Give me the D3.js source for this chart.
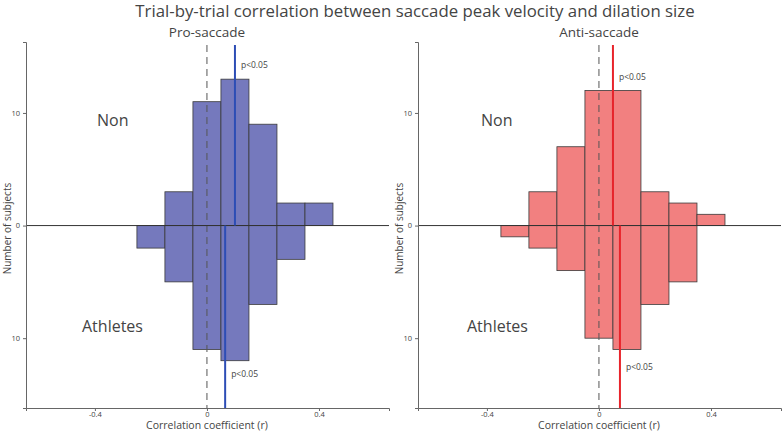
<!DOCTYPE html>
<html>
<head>
<meta charset="utf-8">
<script src="https://cdn.jsdelivr.net/npm/d3@7"></script>
<style>
  body { margin: 0; background: #fff; }
  text { font-family: "Open Sans", "Noto Sans", sans-serif; fill: #444; }
</style>
</head>
<body>
<div id="chart"></div>
<script>
// bin centres (width 0.1) and counts
const proBins = [-0.2, -0.1, 0, 0.1, 0.2, 0.3, 0.4];
const proNon = [0, 3, 11, 13, 9, 2, 2];
const proAth = [2, 5, 11, 12, 7, 3, 0];
const antiBins = [-0.3, -0.2, -0.1, 0, 0.1, 0.2, 0.3, 0.4];
const antiNon = [0, 3, 7, 12, 12, 3, 2, 1];
const antiAth = [1, 2, 4, 10, 11, 7, 5, 0];
// median r per group
const proMedian = { non: 0.1, ath: 0.065 };
const antiMedian = { non: 0.05, ath: 0.075 };
const xTicks = [-0.4, 0, 0.4];
const yTicks = [-10, 0, 10];

const W = 782, H = 433;
const svg = d3.select("#chart").append("svg")
    .attr("width", W).attr("height", H);

svg.append("text")
    .attr("x", 415).attr("y", 17)
    .attr("text-anchor", "middle")
    .style("font-size", "16.8px")
    .text("Trial-by-trial correlation between saccade peak velocity and dilation size");

function panel(opts) {
    const x = d3.scaleLinear().domain([-0.646, 0.65]).range([opts.left, opts.left + 363]);
    const y = d3.scaleLinear().domain([-16.2, 16.3]).range([408, 42]);
    const g = svg.append("g");
    const bw = 0.1;

    g.append("text")
        .attr("x", x(0)).attr("y", 36.5)
        .attr("text-anchor", "middle")
        .style("font-size", "13.5px")
        .text(opts.title);

    const bars = opts.bins.map((b, i) => ({ b: b, non: opts.non[i], ath: opts.ath[i] }));

    g.selectAll("rect.non")
        .data(bars.filter(d => d.non > 0))
        .enter().append("rect")
            .attr("x", d => x(d.b - bw / 2))
            .attr("width", d => x(d.b + bw / 2) - x(d.b - bw / 2))
            .attr("y", d => y(d.non))
            .attr("height", d => y(0) - y(d.non))
            .attr("fill", opts.fill)
            .attr("stroke", "#3a3a3a")
            .attr("stroke-width", 0.8);

    g.selectAll("rect.ath")
        .data(bars.filter(d => d.ath > 0))
        .enter().append("rect")
            .attr("x", d => x(d.b - bw / 2))
            .attr("width", d => x(d.b + bw / 2) - x(d.b - bw / 2))
            .attr("y", y(0))
            .attr("height", d => y(-d.ath) - y(0))
            .attr("fill", opts.fill)
            .attr("stroke", "#3a3a3a")
            .attr("stroke-width", 0.8);

    // zero reference
    g.append("line")
        .attr("x1", x(0)).attr("x2", x(0))
        .attr("y1", 45).attr("y2", 408)
        .attr("stroke", "#555").attr("stroke-width", 1)
        .attr("stroke-dasharray", "7,5");

    g.append("line")
        .attr("x1", opts.left).attr("x2", opts.left + 363)
        .attr("y1", y(0)).attr("y2", y(0))
        .attr("stroke", "#333").attr("stroke-width", 1);

    // medians
    g.append("line")
        .attr("x1", x(opts.med.non)).attr("x2", x(opts.med.non))
        .attr("y1", 45).attr("y2", y(0))
        .attr("stroke", opts.line).attr("stroke-width", 2);
    g.append("line")
        .attr("x1", x(opts.med.ath)).attr("x2", x(opts.med.ath))
        .attr("y1", y(0)).attr("y2", 408)
        .attr("stroke", opts.line).attr("stroke-width", 2);

    g.append("text")
        .attr("x", x(opts.med.non) + 6).attr("y", opts.pTop)
        .style("font-size", "8.5px")
        .text("p<0.05");
    g.append("text")
        .attr("x", x(opts.med.ath) + 6).attr("y", opts.pBot)
        .style("font-size", "8.5px")
        .text("p<0.05");

    // axes
    const xa = g.append("g")
        .attr("transform", "translate(0,408)")
        .call(d3.axisBottom(x).tickValues(xTicks).tickSize(3).tickPadding(1)
            .tickFormat(d => d === 0 ? "0" : d));
    const ya = g.append("g")
        .attr("transform", "translate(" + opts.left + ",0)")
        .call(d3.axisLeft(y).tickValues(yTicks).tickSize(3)
            .tickFormat(d => Math.abs(d)));
    [xa, ya].forEach(a => {
        a.select(".domain").attr("stroke", "#666");
        a.selectAll(".tick line").attr("stroke", "#666");
        a.selectAll(".tick text").style("font-size", "7.5px").attr("fill", "#555")
            .style("font-family", "'Open Sans', sans-serif");
    });

    g.append("text")
        .attr("transform", "translate(" + (opts.left - 15) + "," + (y(0) + 3) + ") rotate(-90)")
        .attr("text-anchor", "middle")
        .style("font-size", "10px")
        .text("Number of subjects");

    g.append("text")
        .attr("x", x(0)).attr("y", 429)
        .attr("text-anchor", "middle")
        .style("font-size", "10.5px")
        .text("Correlation coefficient (r)");

    g.append("text")
        .attr("x", opts.left + opts.nonX).attr("y", 126)
        .style("font-size", "16px")
        .text("Non");
    g.append("text")
        .attr("x", opts.left + opts.athX).attr("y", 332)
        .style("font-size", "16px")
        .text("Athletes");
}

panel({ left: 26, title: "Pro-saccade", bins: proBins, non: proNon, ath: proAth,
        med: proMedian, fill: "#7579bd", line: "#2d4db5",
        pTop: 68, pBot: 377, nonX: 71, athX: 56 });
panel({ left: 418, title: "Anti-saccade", bins: antiBins, non: antiNon, ath: antiAth,
        med: antiMedian, fill: "#f28080", line: "#e8242b",
        pTop: 80, pBot: 370, nonX: 63, athX: 49 });
</script>
</body>
</html>
